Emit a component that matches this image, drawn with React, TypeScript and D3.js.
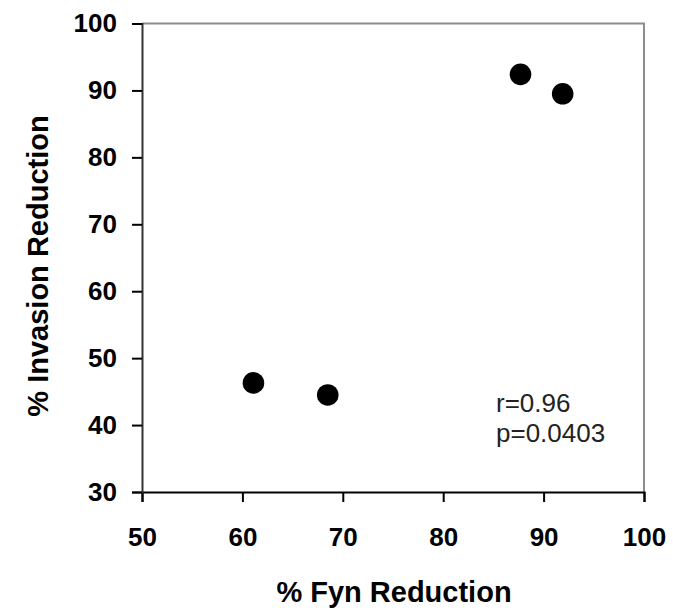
import React, { useRef, useEffect } from 'react';
import * as d3 from 'd3';

// values
const fynReduction = [61.1, 68.5, 87.7, 91.9];
const invasionReduction = [46.3, 44.5, 92.4, 89.5];
const xTicks = [50, 60, 70, 80, 90, 100];
const yTicks = [30, 40, 50, 60, 70, 80, 90, 100];
const statsLines = ['r=0.96', 'p=0.0403'];

const FONT = "Arial, 'Liberation Sans', Helvetica, sans-serif";

function ScatterChart({ width = 673, height = 615 }) {
  const svgRef = useRef<SVGSVGElement | null>(null);

  useEffect(() => {
    const root = d3.select(svgRef.current);
    root.selectAll('*').remove();

    const margin = { top: 23.5, right: 29, bottom: 123, left: 142 };
    const innerWidth = width - margin.left - margin.right;
    const innerHeight = height - margin.top - margin.bottom;

    const xScale = d3.scaleLinear().domain([50, 100]).range([0, innerWidth]);
    const yScale = d3.scaleLinear().domain([30, 100]).range([innerHeight, 0]);

    const svg = root
      .attr('width', width)
      .attr('height', height)
      .append('g')
      .attr('transform', `translate(${margin.left},${margin.top})`);

    // top and right frame (gray)
    svg.append('path')
      .attr('d', `M0,0H${innerWidth}V${innerHeight}`)
      .attr('fill', 'none')
      .attr('stroke', '#8c8c8c')
      .attr('stroke-width', 2);

    // x axis
    const xAxis = svg.append('g')
      .attr('transform', `translate(0,${innerHeight})`)
      .call(d3.axisBottom(xScale).tickValues(xTicks).tickSizeOuter(0).tickSize(10).tickPadding(26));
    xAxis.select('.domain').attr('stroke', '#000').attr('stroke-width', 2);
    xAxis.selectAll('.tick line').attr('stroke', '#000').attr('stroke-width', 2);
    xAxis.selectAll('text')
      .attr('font-family', FONT)
      .attr('font-size', 26)
      .attr('font-weight', 'bold')
      .attr('fill', '#000');

    // y axis
    const yAxis = svg.append('g')
      .call(d3.axisLeft(yScale).tickValues(yTicks).tickSizeOuter(0).tickSize(10).tickPadding(15));
    yAxis.select('.domain').attr('stroke', '#333').attr('stroke-width', 2);
    yAxis.selectAll('.tick line').attr('stroke', '#000').attr('stroke-width', 2);
    yAxis.selectAll('text')
      .attr('font-family', FONT)
      .attr('font-size', 26)
      .attr('font-weight', 'bold')
      .attr('fill', '#000');

    // axis titles
    svg.append('text')
      .attr('x', 394 - margin.left)
      .attr('y', 601.5 - margin.top)
      .attr('text-anchor', 'middle')
      .attr('font-family', FONT)
      .attr('font-size', 29)
      .attr('font-weight', 'bold')
      .text('% Fyn Reduction');

    svg.append('text')
      .attr('transform', 'rotate(-90)')
      .attr('x', -(266 - margin.top))
      .attr('y', 48 - margin.left)
      .attr('text-anchor', 'middle')
      .attr('font-family', FONT)
      .attr('font-size', 29)
      .attr('font-weight', 'bold')
      .text('% Invasion Reduction');

    // points
    svg.selectAll('.dot')
      .data(fynReduction)
      .enter()
      .append('circle')
      .attr('class', 'dot')
      .attr('cx', d => xScale(d))
      .attr('cy', (d, i) => yScale(invasionReduction[i]))
      .attr('r', 10.8)
      .attr('fill', '#000');

    // correlation stats
    svg.append('g')
      .selectAll('text')
      .data(statsLines)
      .enter()
      .append('text')
      .attr('x', 496 - margin.left)
      .attr('y', (d, i) => 411.5 - margin.top + i * 30)
      .attr('font-family', FONT)
      .attr('font-size', 26)
      .attr('fill', '#222')
      .text(d => d);
  }, [width, height]);

  return <svg ref={svgRef} style={{ position: 'absolute', left: 0, top: 0 }}></svg>;
}

export default function App() {
  return <ScatterChart />;
}
